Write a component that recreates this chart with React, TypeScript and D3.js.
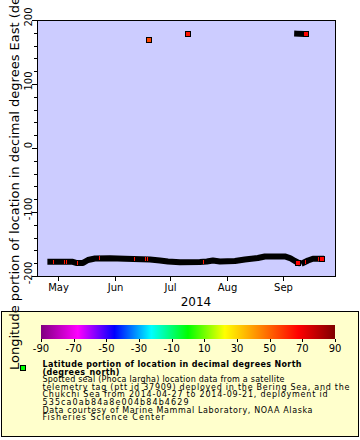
import React from 'react';
import * as d3 from 'd3';

// dense argos fixes overlap into a black band, kept as keypoints of that band
const trackTimes = [
  '2014-04-27T00', '2014-05-08T19', '2014-05-11T00', '2014-05-14T19', '2014-05-17T12',
  '2014-05-21T07', '2014-05-29T12', '2014-06-06T17', '2014-06-20T07', '2014-06-25T17',
  '2014-06-30T02', '2014-07-06T14', '2014-07-17T12', '2014-07-21T07', '2014-07-24T14',
  '2014-07-28T10', '2014-08-05T14', '2014-08-11T00', '2014-08-18T02', '2014-08-21T22',
  '2014-09-01T19', '2014-09-04T14', '2014-09-07T07', '2014-09-08T22',
  '2014-09-12T05', '2014-09-14T10', '2014-09-17T02', '2014-09-21T12',
  '2014-09-08T12', '2014-09-11T00',
];
const trackLon = [
  -177.6, -177.6, -179.5, -179.5, -175,
  -172.7, -172.4, -173, -174.3, -175.8,
  -177.4, -178.6, -178.2, -177.4, -175.8,
  -177.4, -176.6, -174.3, -171.9, -169.5,
  -169.5, -171.9, -176.6, -178.9,
  -178.9, -175.8, -173, -173,
  178.6, 178.4,
];
const trackSeg = [
  0, 0, 0, 0, 0, 0, 0, 0, 0, 0, 0, 0, 0, 0, 0, 0, 0, 0, 0, 0, 0, 0, 0, 0,
  1, 1, 1, 1,
  2, 2,
];

// fixes that show fully (outliers and last ones before gaps)
const fixTimes = ['2014-06-19T19', '2014-07-11T00', '2014-09-08T20', '2014-09-13T10', '2014-09-21T22'];
const fixLon = [169, 178.7, -179.9, 178.8, -173.2];
const fixLat = [55, 64, 67, 67, 67];

// fixes whose colour peeks out of the band
const peekTimes = [
  '2014-04-28T14', '2014-05-04T14', '2014-05-05T12', '2014-05-11T17', '2014-05-23T17',
  '2014-06-11T14', '2014-06-17T17', '2014-06-18T17', '2014-07-19T00', '2014-09-12T22', '2014-09-20T00',
];
const peekLon = [-177.6, -177.6, -177.6, -179.3, -172.5, -173, -174, -174, -178, -178.5, -173];
const peekLat = [64, 64, 64, 64, 64, 64, 64, 64, 64, 66, 66];

const monthTicks = ['2014-05-01', '2014-06-01', '2014-07-01', '2014-08-01', '2014-09-01'];
const monthLabels = ['May', 'Jun', 'Jul', 'Aug', 'Sep'];
const lonTicks = [-200, -100, 0, 100, 200];

const paletteStops = [-90, -67.5, -45, -22.5, 0, 22.5, 45, 67.5, 90];
const paletteColors = ['#800080', '#ff00ff', '#0000ff', '#00ffff', '#00ff00', '#ffff00', '#ff8000', '#ff0000', '#800000'];
const latTicks = [-90, -70, -50, -30, -10, 10, 30, 50, 70, 90];

const legendBold = ['Latitude portion of location in decimal degrees North', '(degrees_north)'];
const legendLines = [
  'Spotted seal (Phoca largha) location data from a satellite',
  'telemetry tag (ptt id 37909) deployed in the Bering Sea, and the',
  'Chukchi Sea from 2014-04-27 to 2014-09-21, deployment id',
  '535ca0ab84a8e004b84b4629',
  'Data courtesy of Marine Mammal Laboratory, NOAA Alaska',
  'Fisheries Science Center',
];
// widths the legend lines take in the picture
const boldWidths = [259, 77];
const lineWidths = [242, 307, 285, 146, 270, 122];

const FONT = 'DejaVu Sans';
const parse = (s: string) => new Date(s.length <= 10 ? s + 'T00:00Z' : s + ':00Z');

const App = () => {
  const left = 37, right = 335, top = 20, bottom = 276;

  const x = d3.scaleUtc()
    .domain([parse('2014-04-19T17'), parse('2014-09-29T03')])
    .range([left, right]);
  const y = d3.scaleLinear().domain([-200, 200]).range([bottom, top]);
  const color = d3.scaleLinear<string>().domain(paletteStops).range(paletteColors).interpolate(d3.interpolateRgb);
  const cb = d3.scaleLinear().domain([-90, 90]).range([41, 335]);

  const line = d3.line<number>()
    .x(i => x(parse(trackTimes[i])))
    .y(i => y(trackLon[i]));
  const segs = d3.groups(d3.range(trackTimes.length), i => trackSeg[i]);

  const minorLon = d3.range(-180, 200, 20).filter(v => v % 100 !== 0);

  return (
    <svg width={360} height={440} style={{ position: 'absolute', left: 0, top: 0 }} fontFamily={FONT}>
      <rect width={360} height={440} fill="#fff" />
      <rect x={left} y={top} width={right - left} height={bottom - top} fill="#ccccff" />

      {/* band of overlapping fixes */}
      {segs.map(([k, idx]) => (
        <path key={k} d={line(idx) ?? ''} fill="none" stroke="#000" strokeWidth={6}
          strokeLinecap="square" strokeLinejoin="round" />
      ))}
      {peekTimes.map((t, i) => (
        <rect key={i} x={Math.round(x(parse(t)))} y={Math.round(y(peekLon[i])) - 2} width={1} height={4}
          fill={color(peekLat[i])} shapeRendering="crispEdges" />
      ))}
      {fixTimes.map((t, i) => (
        <rect key={i} x={Math.round(x(parse(t))) - 2.5} y={Math.round(y(fixLon[i])) - 2.5} width={5} height={5}
          fill={color(fixLat[i])} stroke="#000" strokeWidth={1} shapeRendering="crispEdges" />
      ))}

      {/* frame */}
      <rect x={left + 0.5} y={top + 0.5} width={right - left} height={bottom - top} fill="none" stroke="#000" shapeRendering="crispEdges" />

      {/* y axis */}
      {lonTicks.map(v => (
        <g key={v}>
          <line x1={left - 5} x2={left} y1={Math.round(y(v)) + 0.5} y2={Math.round(y(v)) + 0.5} stroke="#000" />
          <text transform={`translate(${left - 5},${y(v) - 3}) rotate(-90)`} textAnchor="middle" fontSize={10}>{v}</text>
        </g>
      ))}
      {minorLon.map(v => (
        <line key={v} x1={left - 3} x2={left} y1={Math.round(y(v)) + 0.5} y2={Math.round(y(v)) + 0.5} stroke="#000" />
      ))}

      {/* x axis */}
      {monthTicks.map((t, i) => {
        const px = Math.round(x(parse(t))) + 0.5;
        return (
          <g key={t}>
            <line x1={px} x2={px} y1={bottom} y2={bottom + 5} stroke="#000" />
            <text x={px} y={291} textAnchor="middle" fontSize={10}>{monthLabels[i]}</text>
          </g>
        );
      })}
      <text x={196} y={306} textAnchor="middle" fontSize={12}>2014</text>

      {/* legend */}
      <rect x={1.5} y={311.5} width={357} height={125} fill="#ffffcc" stroke="#000" />
      <defs>
        <linearGradient id="pal" x1="0" x2="1" y1="0" y2="0">
          {paletteStops.map((s, i) => (
            <stop key={s} offset={(s + 90) / 180} stopColor={paletteColors[i]} />
          ))}
        </linearGradient>
      </defs>
      <rect x={cb(-90)} y={325} width={cb(90) - cb(-90)} height={14} fill="url(#pal)" />
      {latTicks.map(v => (
        <g key={v}>
          <line x1={Math.round(cb(v)) + 0.5} x2={Math.round(cb(v)) + 0.5} y1={339} y2={342} stroke="#000" />
          <text x={cb(v)} y={352} textAnchor="middle" fontSize={10}>{v}</text>
        </g>
      ))}
      <rect x={20.5} y={365.5} width={5} height={5} fill="#00ff00" stroke="#000" shapeRendering="crispEdges" />
      {legendBold.map((s, i) => (
        <text key={s} x={42.5} y={367 + i * 7.6} fontSize={8} fontWeight="bold"
          textLength={boldWidths[i]} lengthAdjust="spacing">{s}</text>
      ))}
      {legendLines.map((s, i) => (
        <text key={s} x={42.5} y={382.2 + i * 7.6} fontSize={8}
          textLength={lineWidths[i]} lengthAdjust="spacing">{s}</text>
      ))}

      {/* y title over everything */}
      <text transform="translate(18.5,370) rotate(-90)" fontSize={13}>
        Longitude portion of location in decimal degrees East (degrees_east)
      </text>
    </svg>
  );
};

export default App;
